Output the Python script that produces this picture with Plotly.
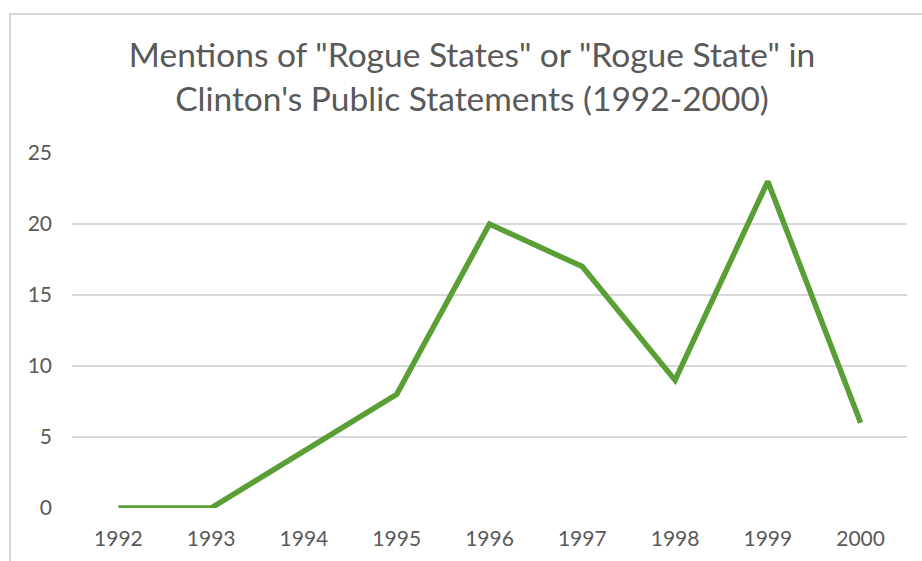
import plotly.graph_objects as go

years = ["1992", "1993", "1994", "1995", "1996", "1997", "1998", "1999", "2000"]
mentions = [0, 0, 4, 8, 20, 17, 9, 23, 6]
y_ticks = [0, 5, 10, 15, 20, 25]

title_text = 'Mentions of "Rogue States" or "Rogue State" in<br>Clinton\'s Public Statements (1992-2000)'

W, H = 922, 561
L, R, T, B = 72, 15, 153, 53
pw, ph = W - L - R, H - T - B

def px_x(p):
    return (p - L) / pw

def px_y(p):
    return (H - B - p) / ph

fig = go.Figure()
fig.add_trace(go.Scatter(
    x=years, y=mentions, mode="lines",
    line=dict(color="#5A9E36", width=5.5),
    hoverinfo="x+y", showlegend=False,
))

fig.update_layout(
    width=W, height=H,
    margin=dict(l=L, r=R, t=T, b=B),
    paper_bgcolor="white", plot_bgcolor="white",
    font=dict(family="Lato", color="#595959"),
    title=dict(text=title_text, x=472 / W, xanchor="center",
               y=1 - 67 / H, yanchor="middle",
               font=dict(family="Lato", size=33.5, color="#595959")),
    xaxis=dict(type="category", range=[-0.5, len(years) - 0.5],
               showgrid=False, showline=False, zeroline=False,
               ticks="", tickfont=dict(size=21, color="#595959"),
               ticklabelstandoff=16),
    yaxis=dict(range=[0, 25], tickvals=y_ticks, showgrid=True, gridcolor="#D9D9D9",
               gridwidth=1.5, zeroline=False, showline=False, ticks="",
               tickfont=dict(size=21, color="#595959"), ticklabelstandoff=19),
    shapes=[dict(type="rect", xref="paper", yref="paper",
                 x0=px_x(10), x1=px_x(940), y0=px_y(590), y1=px_y(14),
                 line=dict(color="#D9D9D9", width=2), layer="below")],
)

fig.write_html("out.html")
